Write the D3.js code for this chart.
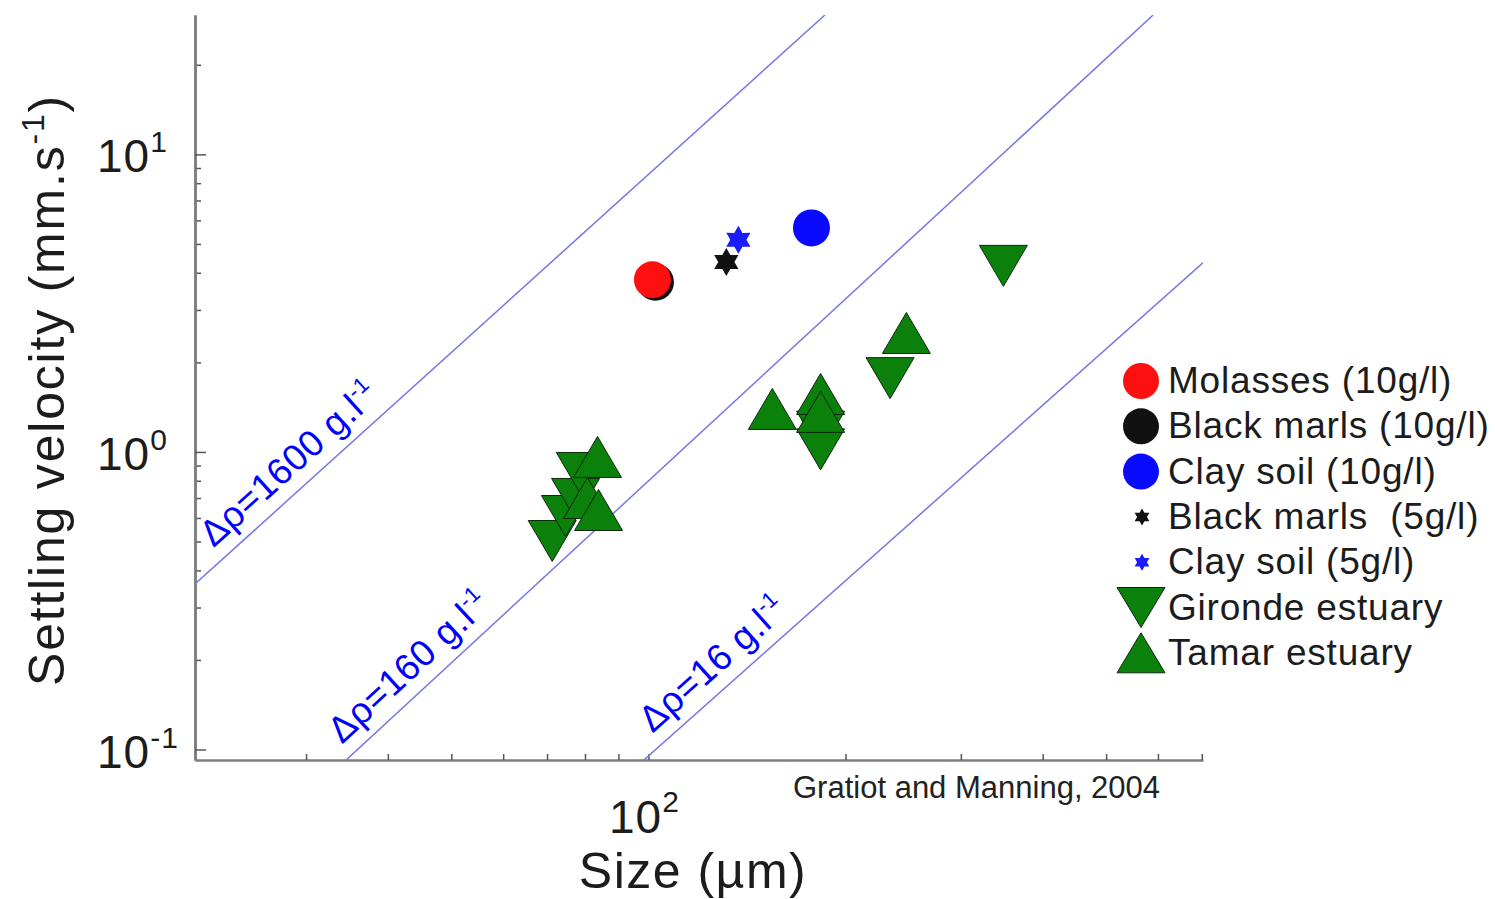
<!DOCTYPE html>
<html>
<head>
<meta charset="utf-8">
<script src="https://cdn.jsdelivr.net/npm/d3@7"></script>
<style>
    body { margin: 0; background: #fff; }
    svg { display: block; font-family: "Liberation Sans", Arial, sans-serif; }
</style>
</head>
<body>
<div id="chart"></div>
<script>
// Floc size (µm) and settling velocity (mm/s)
const molassesSize = [101.4];
const molassesVel = [3.79];
const marls10Size = [102.5];
const marls10Vel = [3.72];
const clay10Size = [177.4];
const clay10Vel = [5.66];
const marls5Size = [131.5];
const marls5Vel = [4.35];
const clay5Size = [137.2];
const clay5Vel = [5.16];
const girondeSize = [71.3, 74.7, 77.4, 78.7, 183.2, 183.2, 233.9, 348.4];
const girondeVel = [0.502, 0.609, 0.695, 0.850, 1.17, 1.02, 1.77, 4.22];
const tamarSize = [83.6, 80.7, 83.9, 154.6, 183.2, 183.2, 247.7];
const tamarVel = [0.962, 0.700, 0.638, 1.395, 1.566, 1.363, 2.51];

// Stokes lines for three density differences (end points)
const densityLabels = ['Δρ=1600 g.l', 'Δρ=160 g.l', 'Δρ=16 g.l'];
const lineSize = [[20.3, 186], [34.5, 590], [98.3, 703]];
const lineVel = [[0.36, 29.4], [0.092, 29.4], [0.092, 4.32]];
const labelSize = [22.4, 35.2, 104.8];

const legendNames = ['Molasses (10g/l)', 'Black marls (10g/l)', 'Clay soil (10g/l)',
    'Black marls  (5g/l)', 'Clay soil (5g/l)', 'Gironde estuary', 'Tamar estuary'];

const yMajor = [0.1, 1, 10];
const yMajorExp = ['-1', '0', '1'];
const yMinor = [0.2, 0.3, 0.4, 0.5, 0.6, 0.7, 0.8, 0.9, 2, 3, 4, 5, 6, 7, 8, 9, 20];
const xTicks = [30, 40, 50, 60, 70, 80, 90, 100, 200, 300, 400, 500, 600, 700];

const svg = d3.select('#chart').append('svg')
    .attr('width', 1495)
    .attr('height', 899);

const x = d3.scaleLog().domain([20.3, 703]).range([195, 1203]);
const y = d3.scaleLog().domain([0.0922, 29.4]).range([760, 15]);

svg.append('clipPath').attr('id', 'plot')
    .append('rect')
    .attr('x', 195).attr('y', 15)
    .attr('width', 1008).attr('height', 745);

// Axes (ticks point inwards)
const axisColor = '#7d7d7d';
function styleAxis(g) {
    g.select('.domain').attr('stroke', axisColor).attr('stroke-width', 2.5);
    g.selectAll('.tick line').attr('stroke', '#555').attr('stroke-width', 1.5);
}
svg.append('g')
    .attr('transform', 'translate(195,0)')
    .call(d3.axisLeft(y).tickValues(yMinor).tickSize(-6).tickSizeOuter(0).tickFormat(''))
    .call(styleAxis);
svg.append('g')
    .attr('transform', 'translate(195,0)')
    .call(d3.axisLeft(y).tickValues(yMajor).tickSize(-11).tickSizeOuter(0).tickFormat(''))
    .call(styleAxis);
svg.append('g')
    .attr('transform', 'translate(0,760)')
    .call(d3.axisBottom(x).tickValues(xTicks).tickSize(-6).tickSizeOuter(0).tickFormat(''))
    .call(styleAxis);

// Tick labels with superscripts
const textColor = '#1c1c1c';
yMajor.forEach((v, i) => {
    const t = svg.append('text')
        .attr('x', 97)
        .attr('y', y(v) + 18)
        .attr('fill', textColor)
        .attr('font-size', 46)
        .attr('letter-spacing', 1);
    t.append('tspan').text('10');
    t.append('tspan').attr('dy', -20).attr('font-size', 30).text(yMajorExp[i]);
});
const xl = svg.append('text')
    .attr('x', 609)
    .attr('y', 833)
    .attr('fill', textColor)
    .attr('font-size', 46)
    .attr('letter-spacing', 1);
xl.append('tspan').text('10');
xl.append('tspan').attr('dy', -21).attr('font-size', 30).text('2');

// Axis titles
svg.append('text')
    .attr('x', 693)
    .attr('y', 888)
    .attr('text-anchor', 'middle')
    .attr('fill', textColor)
    .attr('font-size', 50)
    .attr('letter-spacing', 1.5)
    .text('Size (µm)');
const yl = svg.append('text')
    .attr('transform', 'translate(64,390) rotate(-90)')
    .attr('text-anchor', 'middle')
    .attr('fill', textColor)
    .attr('font-size', 50)
    .attr('letter-spacing', 1.8);
yl.append('tspan').text('Settling velocity (mm.s');
yl.append('tspan').attr('dy', -20).attr('font-size', 32).text('-1');
yl.append('tspan').attr('dy', 20).text(')');

// Stokes lines and their labels
const lineG = svg.append('g').attr('clip-path', 'url(#plot)');
lineG.selectAll('line')
    .data(densityLabels)
    .join('line')
    .attr('x1', (d, i) => x(lineSize[i][0]))
    .attr('y1', (d, i) => y(lineVel[i][0]))
    .attr('x2', (d, i) => x(lineSize[i][1]))
    .attr('y2', (d, i) => y(lineVel[i][1]))
    .attr('stroke', '#7676e4')
    .attr('stroke-width', 1.5);

densityLabels.forEach((lab, i) => {
    const x1 = x(lineSize[i][0]), y1 = y(lineVel[i][0]);
    const x2 = x(lineSize[i][1]), y2 = y(lineVel[i][1]);
    const angle = Math.atan2(y2 - y1, x2 - x1) * 180 / Math.PI;
    const px = x(labelSize[i]);
    const py = y1 + (px - x1) * (y2 - y1) / (x2 - x1);
    const t = svg.append('text')
        .attr('transform', `translate(${px},${py}) rotate(${angle})`)
        .attr('y', -14)
        .attr('fill', '#0000ff')
        .attr('font-size', 37)
        .attr('letter-spacing', 0.5);
    t.append('tspan').text(lab);
    t.append('tspan').attr('dy', -15).attr('font-size', 22).text('-1');
});

// Marker shapes
function triangle(up, w = 48, h = 41) {
    return up
        ? `M0,${-h / 2}L${w / 2},${h / 2}L${-w / 2},${h / 2}Z`
        : `M0,${h / 2}L${w / 2},${-h / 2}L${-w / 2},${-h / 2}Z`;
}
function hexagram(r) {
    const pts = [];
    for (let k = 0; k < 12; k++) {
        const a = -Math.PI / 2 + k * Math.PI / 6;
        const rr = k % 2 === 0 ? r : r * 0.577;
        pts.push([rr * Math.cos(a), rr * Math.sin(a)]);
    }
    return 'M' + pts.join('L') + 'Z';
}

const pts = svg.append('g');
function circles(sizes, vels, color) {
    pts.selectAll(null)
        .data(sizes)
        .join('circle')
        .attr('cx', d => x(d))
        .attr('cy', (d, i) => y(vels[i]))
        .attr('r', 18.5)
        .attr('fill', color);
}
function stars(sizes, vels, color) {
    pts.selectAll(null)
        .data(sizes)
        .join('path')
        .attr('d', hexagram(14))
        .attr('transform', (d, i) => `translate(${x(d)},${y(vels[i])})`)
        .attr('fill', color);
}
function triangles(sizes, vels, up) {
    pts.selectAll(null)
        .data(sizes)
        .join('path')
        .attr('d', triangle(up))
        .attr('transform', (d, i) => `translate(${x(d)},${y(vels[i])})`)
        .attr('fill', '#0b800b')
        .attr('stroke', '#0a2a0a')
        .attr('stroke-width', 1);
}

circles(marls10Size, marls10Vel, '#111');
circles(molassesSize, molassesVel, '#ff1010');
circles(clay10Size, clay10Vel, '#0a0aff');
stars(marls5Size, marls5Vel, '#111');
stars(clay5Size, clay5Vel, '#1a1aff');
triangles(girondeSize, girondeVel, false);
triangles(tamarSize, tamarVel, true);

// Legend
const legendMarkers = [
    { type: 'circle', color: '#ff1010' },
    { type: 'circle', color: '#111' },
    { type: 'circle', color: '#0a0aff' },
    { type: 'star', color: '#111' },
    { type: 'star', color: '#1a1aff' },
    { type: 'down', color: '#0b800b' },
    { type: 'up', color: '#0b800b' },
];
const legend = svg.append('g');
legendNames.forEach((name, i) => {
    const cy = 381 + i * 45.3;
    const m = legendMarkers[i];
    if (m.type === 'circle') {
        legend.append('circle').attr('cx', 1141).attr('cy', cy).attr('r', 18).attr('fill', m.color);
    } else if (m.type === 'star') {
        legend.append('path').attr('d', hexagram(8.5))
            .attr('transform', `translate(1142,${cy})`).attr('fill', m.color);
    } else {
        legend.append('path').attr('d', triangle(m.type === 'up', 48, 40))
            .attr('transform', `translate(1141,${cy})`)
            .attr('fill', m.color).attr('stroke', '#0a2a0a').attr('stroke-width', 1);
    }
    legend.append('text')
        .attr('x', 1168)
        .attr('y', cy + 12)
        .attr('fill', textColor)
        .attr('font-size', 37)
        .attr('letter-spacing', 0.8)
        .style('white-space', 'pre')
        .text(name);
});

svg.append('text')
    .attr('x', 793)
    .attr('y', 798)
    .attr('fill', '#222')
    .attr('font-size', 31)
    .text('Gratiot and Manning, 2004');
</script>
</body>
</html>
